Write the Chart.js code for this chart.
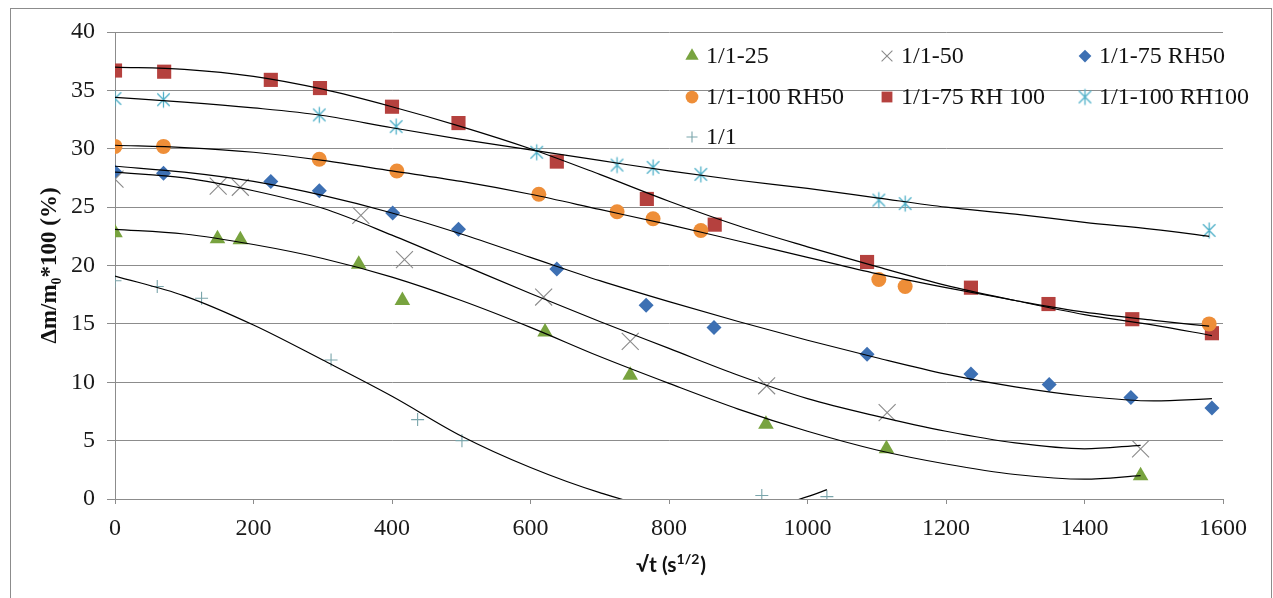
<!DOCTYPE html>
<html><head><meta charset="utf-8">
<script src="https://cdn.jsdelivr.net/npm/chart.js@4.4.0/dist/chart.umd.min.js"></script>
<style>html,body{margin:0;padding:0;background:#fff;}#wrap{position:relative;width:1273px;height:598px;}</style>
</head><body><div id="wrap"><canvas id="c" width="1273" height="598"></canvas></div>
<script>
// ---- data ----
const seriesNames = ['1/1-25', '1/1-50', '1/1-75 RH50', '1/1-100 RH50', '1/1-75 RH 100', '1/1-100 RH100', '1/1'];

const x25 = [0, 148, 181, 352, 415, 621, 744, 940, 1114, 1481];
const y25 = [22.8, 22.3, 22.2, 20.1, 17.0, 14.3, 10.6, 6.4, 4.3, 2.0];

const x50 = [0, 149, 181, 355, 418, 619, 744, 941, 1115, 1481];
const y50 = [27.4, 26.8, 26.7, 24.3, 20.5, 17.3, 13.5, 9.7, 7.4, 4.3];

const x75rh50 = [0, 70, 225, 295, 401, 496, 638, 767, 865, 1086, 1236, 1349, 1467, 1584];
const y75rh50 = [28.0, 27.9, 27.2, 26.4, 24.5, 23.1, 19.7, 16.6, 14.7, 12.4, 10.7, 9.8, 8.7, 7.8];

const x100rh50 = [0, 70, 295, 407, 612, 725, 777, 846, 1103, 1141, 1580];
const y100rh50 = [30.2, 30.2, 29.1, 28.1, 26.1, 24.6, 24.0, 23.0, 18.8, 18.2, 15.0];

const x75rh100 = [0, 71, 225, 296, 400, 496, 638, 768, 866, 1086, 1236, 1348, 1469, 1584];
const y75rh100 = [36.7, 36.6, 35.9, 35.2, 33.6, 32.2, 28.9, 25.7, 23.5, 20.3, 18.1, 16.7, 15.4, 14.2];

const x100rh100 = [0, 70, 295, 406, 609, 725, 777, 846, 1103, 1141, 1580];
const y100rh100 = [34.3, 34.2, 32.9, 31.9, 29.7, 28.6, 28.4, 27.8, 25.6, 25.3, 23.0];

const x11 = [0, 61, 125, 312, 437, 501, 934, 1028];
const y11 = [18.7, 18.2, 17.2, 11.9, 6.8, 5.0, 0.3, 0.2];

// trend lines
const tx25 = [0, 100, 200, 300, 400, 500, 600, 700, 800, 900, 1000, 1100, 1200, 1300, 1400, 1481];
const ty25 = [23.1, 22.7, 21.8, 20.6, 19.0, 17.0, 14.7, 12.2, 9.9, 7.7, 5.8, 4.2, 3.0, 2.1, 1.7, 2.0];

const tx50 = [0, 100, 200, 300, 400, 500, 600, 700, 800, 900, 1000, 1100, 1200, 1300, 1400, 1481];
const ty50 = [28.0, 27.5, 26.4, 24.9, 22.6, 20.1, 17.6, 15.2, 12.9, 10.6, 8.6, 7.1, 5.8, 4.8, 4.3, 4.6];

const tx75rh50 = [0, 100, 200, 300, 400, 500, 600, 700, 800, 900, 1000, 1100, 1200, 1300, 1400, 1500, 1584];
const ty75rh50 = [28.5, 28.0, 27.2, 26.0, 24.5, 22.7, 20.7, 18.7, 16.9, 15.2, 13.6, 12.1, 10.7, 9.6, 8.8, 8.4, 8.6];

const tx100rh50 = [0, 100, 200, 300, 400, 500, 600, 700, 800, 900, 1000, 1100, 1200, 1300, 1400, 1500, 1580];
const ty100rh50 = [30.3, 30.1, 29.7, 29.0, 28.1, 27.2, 26.1, 24.8, 23.5, 22.1, 20.7, 19.3, 18.1, 17.0, 16.0, 15.3, 14.8];

const tx75rh100 = [0, 100, 200, 300, 400, 500, 600, 700, 800, 900, 1000, 1100, 1200, 1300, 1400, 1500, 1584];
const ty75rh100 = [37.0, 36.8, 36.2, 35.1, 33.6, 31.9, 30.0, 27.8, 25.5, 23.4, 21.6, 19.9, 18.3, 17.0, 15.8, 14.9, 14.0];

const tx100rh100 = [0, 100, 200, 300, 400, 500, 600, 700, 800, 900, 1000, 1100, 1200, 1300, 1400, 1500, 1580];
const ty100rh100 = [34.4, 34.0, 33.5, 32.85, 31.8, 30.8, 29.9, 29.0, 28.1, 27.3, 26.6, 25.8, 25.0, 24.4, 23.7, 23.1, 22.5];

const tx11 = [0, 100, 200, 300, 400, 500, 600, 700, 800, 900, 1000, 1028];
const ty11 = [19.1, 17.4, 14.9, 11.9, 8.8, 5.4, 2.7, 0.55, -1.0, -1.3, 0.2, 0.8];

const xTicks = [0, 200, 400, 600, 800, 1000, 1200, 1400, 1600];
const yTicks = [0, 5, 10, 15, 20, 25, 30, 35, 40];

const yTitle = 'Δm/m₀*100 (%)';
const xTitleMain = '√t (s';
const xTitleSup = '1/2';
const xTitleEnd = ')';

// ---- helpers ----
const pts = (xs, ys) => xs.map((x, i) => ({x: x, y: ys[i]}));

function makeStar(color) {
  const s = 19;
  const c = document.createElement('canvas');
  c.width = s; c.height = s;
  const g = c.getContext('2d');
  g.strokeStyle = color; g.lineWidth = 1.3;
  const m = s / 2, r = 8, d = 6.2;
  g.beginPath();
  g.moveTo(m, m - r); g.lineTo(m, m + r);
  g.moveTo(m - d, m - d); g.lineTo(m + d, m + d);
  g.moveTo(m + d, m - d); g.lineTo(m - d, m + d);
  g.stroke();
  return c;
}

const C = {
  green: '#78a33f', grey: '#8a8a8a', blue: '#3d70b3', orange: '#ee8e38',
  red: '#b5413e', teal: '#4fb0c8', plus: '#7aa5ab'
};

const markerDefs = [
  {style: 'triangle', r: 9, bg: C.green, bc: C.green, bw: 0},
  {style: 'crossRot', r: 12, bg: 'rgba(0,0,0,0)', bc: C.grey, bw: 1.1},
  {style: 'rectRot', r: 7.5, bg: C.blue, bc: C.blue, bw: 0},
  {style: 'circle', r: 7.5, bg: C.orange, bc: C.orange, bw: 0},
  {style: 'rect', r: 10, bg: C.red, bc: C.red, bw: 0},
  {style: makeStar(C.teal), r: 8, bg: C.teal, bc: C.teal, bw: 1},
  {style: 'cross', r: 6.5, bg: 'rgba(0,0,0,0)', bc: C.plus, bw: 1.1}
];

const scatterData = [
  pts(x25, y25), pts(x50, y50), pts(x75rh50, y75rh50), pts(x100rh50, y100rh50),
  pts(x75rh100, y75rh100), pts(x100rh100, y100rh100), pts(x11, y11)
];
const trendData = [
  pts(tx25, ty25), pts(tx50, ty50), pts(tx75rh50, ty75rh50), pts(tx100rh50, ty100rh50),
  pts(tx75rh100, ty75rh100), pts(tx100rh100, ty100rh100), pts(tx11, ty11)
];

const datasets = [];
trendData.forEach((d, i) => {
  datasets.push({
    label: 'trend ' + seriesNames[i], data: d, trend: true, showLine: true,
    borderColor: '#000', borderWidth: 1.2, pointRadius: 0, fill: false,
    cubicInterpolationMode: 'monotone', order: 0
  });
});
scatterData.forEach((d, i) => {
  const m = markerDefs[i];
  datasets.push({
    label: seriesNames[i], data: d, trend: false, showLine: false,
    pointStyle: m.style, pointRadius: m.r, pointHoverRadius: m.r,
    pointBackgroundColor: m.bg, pointBorderColor: m.bc, pointBorderWidth: m.bw,
    backgroundColor: m.bg, borderColor: m.bc, order: 1
  });
});

// ---- plugins ----
const framePlugin = {
  id: 'frame',
  beforeDraw(chart) {
    const ctx = chart.ctx;
    ctx.save();
    ctx.fillStyle = '#fff';
    ctx.fillRect(0, 0, chart.width, chart.height);
    ctx.strokeStyle = '#8c8c8c';
    ctx.lineWidth = 1;
    ctx.strokeRect(10.5, 8.5, 1261, 700);
    ctx.restore();
  }
};

const legendPos = {cols: [692, 887, 1085], rows: [56, 97, 137]};
const customLegend = {
  id: 'customLegend',
  afterDraw(chart) {
    const ctx = chart.ctx;
    const sets = chart.data.datasets.filter(d => !d.trend);
    ctx.save();
    ctx.font = '24px "Liberation Serif", "Times New Roman", serif';
    ctx.textBaseline = 'middle';
    ctx.textAlign = 'left';
    sets.forEach((ds, i) => {
      const x = legendPos.cols[i % 3];
      const y = legendPos.rows[Math.floor(i / 3)];
      ctx.fillStyle = ds.pointBackgroundColor;
      ctx.strokeStyle = ds.pointBorderColor;
      ctx.lineWidth = ds.pointBorderWidth || 1;
      const r = Math.min(ds.pointRadius, 9) * 0.85;
      Chart.helpers.drawPoint(ctx, {pointStyle: ds.pointStyle, radius: r, rotation: 0, borderWidth: ds.pointBorderWidth}, x, y);
      ctx.fillStyle = '#111';
      ctx.fillText(ds.label, x + 14, y + 1);
    });
    ctx.restore();
  }
};

const xTitlePlugin = {
  id: 'xTitle',
  afterDraw(chart) {
    const ctx = chart.ctx;
    ctx.save();
    ctx.fillStyle = '#111';
    ctx.textBaseline = 'alphabetic';
    const mainFont = 'bold 21px Lato, "Open Sans", sans-serif';
    const supFont = 'bold 14px Lato, "Open Sans", sans-serif';
    ctx.font = mainFont; const w1 = ctx.measureText(xTitleMain).width; const w3 = ctx.measureText(xTitleEnd).width;
    ctx.font = supFont; const w2 = ctx.measureText(xTitleSup).width;
    const total = w1 + w2 + w3 + 1;
    const area = chart.chartArea;
    let x = (area.left + area.right) / 2 - total / 2 + 2;
    const base = 572;
    ctx.font = mainFont; ctx.fillText(xTitleMain, x, base); x += w1;
    ctx.font = supFont; ctx.fillText(xTitleSup, x, base - 8); x += w2 + 1;
    ctx.font = mainFont; ctx.fillText(xTitleEnd, x, base);
    ctx.restore();
  }
};

const tickFont = {family: '"Liberation Serif", "Times New Roman", serif', size: 24};

new Chart(document.getElementById('c'), {
  type: 'scatter',
  data: {datasets: datasets},
  options: {
    responsive: false,
    animation: false,
    events: [],
    layout: {padding: {left: 0, right: 50, top: 32, bottom: 0}},
    plugins: {legend: {display: false}, tooltip: {enabled: false}},
    scales: {
      x: {
        type: 'linear', min: 0, max: 1600,
        afterBuildTicks: s => { s.ticks = xTicks.map(v => ({value: v})); },
        afterFit: s => { s.height = 99; },
        ticks: {font: tickFont, color: '#1a1a1a', padding: 10, maxRotation: 0, autoSkip: false,
                callback: v => String(v)},
        grid: {drawOnChartArea: false, drawTicks: true, tickLength: 5, color: '#8c8c8c'},
        border: {display: true, color: '#8c8c8c', width: 1},
        title: {display: false}
      },
      y: {
        type: 'linear', min: 0, max: 40,
        afterBuildTicks: s => { s.ticks = yTicks.map(v => ({value: v})); },
        afterFit: s => { s.width = 115; },
        ticks: {font: tickFont, color: '#1a1a1a', padding: 12, autoSkip: false,
                callback: v => String(v)},
        grid: {drawOnChartArea: true, drawTicks: true, tickLength: 8, color: '#8c8c8c', lineWidth: 1},
        border: {display: true, color: '#8c8c8c', width: 1},
        title: {
          display: true, text: yTitle, color: '#111',
          font: {family: '"Liberation Serif", "Times New Roman", serif', size: 23, weight: 'bold'},
          padding: {top: 36, bottom: 0}
        }
      }
    }
  },
  plugins: [framePlugin, customLegend, xTitlePlugin]
});
</script>
</body></html>
